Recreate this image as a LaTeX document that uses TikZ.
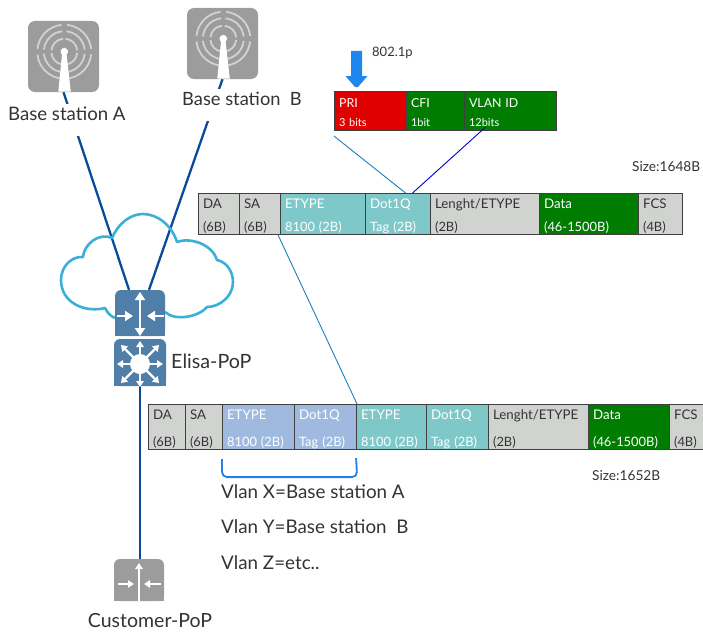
\documentclass[tikz,border=0pt]{standalone}
\usepackage{fontspec}
\setmainfont{Lato}
\usetikzlibrary{arrows.meta,calc}
\pgfdeclarelayer{background}
\pgfsetlayers{background,main}
\definecolor{txt}{HTML}{333333}
\definecolor{icongray}{HTML}{9C9C9C}
\definecolor{ringgray}{HTML}{D2D2D2}
\definecolor{iconblue}{HTML}{4F7FA8}
\definecolor{trunk}{HTML}{0B4A9A}
\definecolor{cloudblue}{HTML}{3AB0D8}
\definecolor{fgray}{HTML}{D1D3D1}
\definecolor{fteal}{HTML}{7FC8C9}
\definecolor{fblue}{HTML}{A0BADF}
\definecolor{fgreen}{HTML}{007D00}
\definecolor{fred}{HTML}{E00000}
\definecolor{thinblue}{HTML}{1A7FC0}
\definecolor{bracket}{HTML}{2080E8}
\definecolor{bigarrow}{HTML}{1E86F0}
\tikzset{
  x=1pt,y=-1pt,
  label text/.style={text=txt,font=\fontsize{18.8}{21}\selectfont,inner sep=0pt},
  small text/.style={text=txt,font=\fontsize{13}{15}\selectfont,inner sep=0pt},
  size text/.style={text=txt,font=\fontsize{13.7}{15}\selectfont,inner sep=0pt},
  station label/.style={label text,fill=white,text height=17pt,text depth=15pt,anchor=base west},
  icon gray/.style={fill=icongray,rounded corners=7pt,minimum width=71pt,minimum height=71pt,inner sep=0pt},
  sw body/.style={fill=iconblue,rounded corners=6pt,inner sep=0pt},
  field/.style={draw=black!75,line width=1.1pt,anchor=north west,align=left,inner xsep=4.5pt,inner ysep=0pt},
  fg/.style={fill=fgray,text=txt},
  ft/.style={fill=fteal,text=white},
  fb/.style={fill=fblue,text=white},
  fd/.style={fill=fgreen,text=white},
  fr/.style={fill=fred,text=white},
  trunk line/.style={draw=trunk,line width=2.3pt},
  thin line/.style={draw=thinblue,line width=0.9pt},
  icon arrow/.style={draw=white,line width=2.8pt,-{Triangle[width=10pt,length=8pt]}},
  fine arrow/.style={draw=white,line width=2.3pt,-{Triangle[width=7.5pt,length=6pt]}},
}
% field text lines: frame first line, frame second line, tag first and second line
\newcommand\lone[1]{{\rule{0pt}{14pt}\fontsize{13.3}{10}\selectfont #1}}
\newcommand\ltwo[1]{{\fontsize{12.9}{10}\selectfont #1}}
\newcommand\ltag[1]{{\rule{0pt}{12.5pt}\fontsize{12.4}{10}\selectfont #1}}
\newcommand\lbit[1]{{\fontsize{11}{10}\selectfont #1}}
% name, x1, x2, y1, y2, style, line skip, size, text
\newcommand\fieldbox[9]{%
  \pgfmathsetlengthmacro\fw{#3-#2}%
  \pgfmathsetlengthmacro\fh{#5-#4}%
  \pgfmathsetlengthmacro\ftw{#3-#2-9}%
  \node[field,#6,minimum width=\fw,minimum height=\fh,text width=\ftw,
        font=\fontsize{#8}{#7}\selectfont] (#1) at (#2,#4) {#9};}
\newcommand\towermark[2]{%
  \begin{scope}[shift={(#1,#2)}]
    \foreach \r in {13,20.5,27}{
      \foreach \a in {0,90,180,270}{
        \draw[ringgray,line width=1.8pt] ({\r*cos(\a+6)},{\r*sin(\a+6)}) arc[start angle=\a+6,end angle=\a+84,radius=\r];
      }
    }
    \fill[white] (-2,0) -- (2,0) -- (6.5,40) -- (-6,40) -- cycle;
    \fill[white] (0,0) circle (3.8);
  \end{scope}}
\begin{document}
\begin{tikzpicture}
\useasboundingbox (0,0) rectangle (703,634);

% base station icons
\node[icon gray] (iconA) at (63.5,56.5) {};
\towermark{64.3}{51.7}
\node[icon gray] (iconB) at (222.5,43.5) {};
\towermark{223.3}{38.7}
\node[station label,font=\fontsize{18.6}{21}\selectfont] (labA) at (8,120.5) {Base station A};
\node[station label,font=\fontsize{18.3}{21}\selectfont] (labB) at (182,105.5) {Base station\ \ B};

% cloud
\draw[cloudblue,line width=2.6pt,line join=round]
  (115,318) .. controls (110,316) and (107,312) .. (105,308)
  .. controls (85,313) and (61,303) .. (61,280)
  .. controls (61,266) and (72,256) .. (83,257)
  .. controls (84,245) and (98,232) .. (112,238)
  .. controls (118,224) and (130,214) .. (143,214)
  .. controls (158,214) and (172,226) .. (177,242)
  .. controls (190,237) and (212,244) .. (217,260)
  .. controls (227,262) and (233,272) .. (233,282)
  .. controls (233,296) and (220,307) .. (207,307)
  .. controls (200,316) and (176,322) .. (165,312);

% routers
\node[sw body,minimum width=50pt,minimum height=46pt] (core) at (140,313) {};
\fill[iconblue] (115,320) rectangle (165,336);
\draw[icon arrow] (140,316) -- (140,292);
\draw[icon arrow] (140,316) -- (140,336);
\draw[icon arrow] (117,316) -- (133,316);
\draw[icon arrow] (164,316) -- (147,316);
\node[sw body,minimum width=52pt,minimum height=47pt] (edge) at (140,362.5) {};
\fill[iconblue] (114,370) rectangle (166,386);
\foreach \a/\l in {0/23,90/23,180/23,270/23,45/27,135/27,225/27,315/27}{
  \draw[fine arrow] (140,364) -- ++(\a:\l);
}
\fill[white] (140,364) circle (10);
\node[label text,anchor=west,font=\fontsize{19.7}{21}\selectfont] (elisa) at (171,361) {Elisa-PoP};

% customer
\node[fill=icongray,rounded corners=6pt,inner sep=0pt,minimum width=50pt,minimum height=42pt] (cust) at (139,580) {};
\fill[icongray] (114,585) rectangle (164,601);
\draw[fine arrow] (139,601) -- (139,563);
\draw[fine arrow] (118,584) -- (134,584);
\draw[fine arrow] (161,584) -- (144,584);
\node[label text,anchor=center,font=\fontsize{19.5}{21}\selectfont] (custlab) at (150,621) {Customer-PoP};

% 802.1p block
\fill[bigarrow] (351,51) -- (362,51) -- (362,76) -- (367.5,76) -- (358,87) -- (355,87) -- (345.5,76) -- (351,76) -- cycle;
\node[small text,anchor=west] (dotp) at (372,53) {802.1p};
\fieldbox{pri}{334}{406}{91}{130}{fr}{19}{11}{\ltag{PRI}\\\lbit{3 bits}}
\fieldbox{cfi}{406}{464}{91}{130}{fd}{19}{11}{\ltag{CFI}\\\lbit{1bit}}
\fieldbox{vlan}{464}{556}{91}{130}{fd}{19}{11}{\ltag{VLAN ID}\\\lbit{12bits}}

% frame 1
\fieldbox{daA}{198}{239}{193}{234}{fg}{23}{12}{\lone{DA}\\\ltwo{(6B)}}
\fieldbox{saA}{239}{280}{193}{234}{fg}{23}{12}{\lone{SA}\\\ltwo{(6B)}}
\fieldbox{etA}{280}{365}{193}{234}{ft}{23}{12}{\lone{ETYPE}\\\ltwo{8100 (2B)}}
\fieldbox{tagA}{365}{430}{193}{234}{ft}{23}{12}{\lone{Dot1Q}\\\ltwo{Tag (2B)}}
\fieldbox{lenA}{430}{539}{193}{234}{fg}{23}{12}{\lone{Lenght/ETYPE}\\\ltwo{(2B)}}
\fieldbox{dataA}{539}{638}{193}{234}{fd}{23}{12}{\lone{Data}\\\ltwo{(46-1500B)}}
\fieldbox{fcsA}{638}{682}{193}{234}{fg}{23}{12}{\lone{FCS}\\\ltwo{(4B)}}
\node[size text,anchor=west] (sizeA) at (632,167) {Size:1648B};

% frame 2
\fieldbox{daB}{148}{185}{404}{449}{fg}{27}{12}{\lone{DA}\\\ltwo{(6B)}}
\fieldbox{saB}{185}{222}{404}{449}{fg}{27}{12}{\lone{SA}\\\ltwo{(6B)}}
\fieldbox{etoB}{222}{294}{404}{449}{fb}{27}{12}{\lone{ETYPE}\\\ltwo{8100 (2B)}}
\fieldbox{tagoB}{294}{356}{404}{449}{fb}{27}{12}{\lone{Dot1Q}\\\ltwo{Tag (2B)}}
\fieldbox{etB}{356}{426}{404}{449}{ft}{27}{12}{\lone{ETYPE}\\\ltwo{8100 (2B)}}
\fieldbox{tagB}{426}{488}{404}{449}{ft}{27}{12}{\lone{Dot1Q}\\\ltwo{Tag (2B)}}
\fieldbox{lenB}{488}{588}{404}{449}{fg}{27}{12}{\lone{Lenght/ETYPE}\\\ltwo{(2B)}}
\fieldbox{dataB}{588}{669}{404}{449}{fd}{27}{12}{\lone{Data}\\\ltwo{(46-1500B)}}
\fieldbox{fcsB}{669}{706}{404}{449}{fg}{27}{12}{\lone{FCS}\\\ltwo{(4B)}}
\node[size text,anchor=west] (sizeB) at (592,476) {Size:1652B};

% vlan legend
\node[label text,anchor=west] (vx) at (221,491.5) {Vlan X=Base station A};
\node[label text,anchor=west] (vy) at (221,526.5) {Vlan Y=Base station\ \ B};
\node[label text,anchor=west] (vz) at (221,562.5) {Vlan Z=etc..};

% connectors
\begin{pgfonlayer}{background}
  \draw[trunk line] (iconA.south) -- ([xshift=-11pt]core.north);
  \draw[trunk line] (iconB.south) -- ([xshift=9pt]core.north);
  \draw[trunk line] (edge.south) -- (edge.south |- cust.north);
  \draw[thin line] ([yshift=-5pt]pri.south west) -- ([xshift=7.5pt]tagA.north);
  \draw[thin line] ([xshift=-3pt]saA.south east) -- ([xshift=1pt]etB.north west);
\end{pgfonlayer}
\draw[blue!85!black,line width=0.9pt] ([xshift=-25pt,yshift=4pt]vlan.south) -- ([xshift=14.5pt]tagA.north);
\draw[bracket,line width=1.8pt,rounded corners=5pt]
  ([yshift=-9pt]etoB.south west) -- ([yshift=-27pt]etoB.south west) -- ([yshift=-27pt]tagoB.south east) -- ([yshift=-8pt,xshift=-1pt]tagoB.south east);
\end{tikzpicture}
\end{document}
